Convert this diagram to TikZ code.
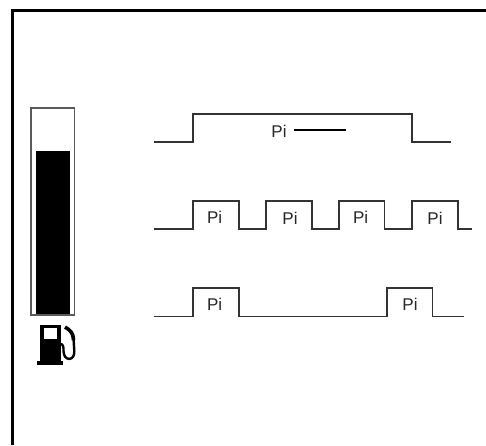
\documentclass[tikz,border=0pt]{standalone}
\usepackage{fontspec}
\setmainfont{Liberation Sans}
\usepackage{tikz}
\tikzset{
  frameline/.style={line width=3.4pt, black},
  wave/.style={line width=1.6pt, draw=black!80, line join=miter},
  gauge/.style={draw=black!65, line width=1.6pt},
  pilabel/.style={font=\fontsize{17}{19}\selectfont, text=black!85, inner sep=0pt}
}
\begin{document}
\begin{tikzpicture}[x=1pt, y=-1pt]
  \useasboundingbox (0,0) rectangle (486,445);
  \draw[frameline] (12.7,445) -- (12.7,10.7) -- (486,10.7);
  % fuel gauge
  \fill[black] (36,151) rectangle (70,315);
  \draw[gauge] (31,108) rectangle (74.5,315);
  % pump
  \fill[black] (40,325) rectangle (60.7,362);
  \fill[black] (36.7,361) rectangle (63.3,365);
  \fill[white] (43.5,328) rectangle (57.3,338.7);
  \draw[black, line width=2.4pt] (60,344) .. controls (63.5,344) and (63.5,347) .. (63.5,351)
    .. controls (63.5,361.5) and (75,361.5) .. (74.3,351) -- (73.5,338);
  \draw[black, line width=3.6pt] (73.5,340) .. controls (73.5,333) and (70,330) .. (65,327);
  % full load
  \draw[wave] (153.7,141.7) -- (192.7,141.7) -- (192.7,113.7) -- (412,113.7) -- (412,141.7) -- (451,141.7);
  \node[pilabel] (pitop) at (279,131) {Pi};
  \draw[black, line width=1.8pt] (294,130) -- (346,130);
  % four pulses
  \draw[wave] (153.7,228.7) -- (192.7,228.7) -- (192.7,201) -- (238.7,201) -- (238.7,228.7)
    -- (265.7,228.7) -- (265.7,201) -- (311.7,201) -- (311.7,228.7)
    -- (338.7,228.7) -- (338.7,201) -- (384.3,201) -- (384.3,228.7)
    -- (412,228.7) -- (412,201) -- (457.7,201) -- (457.7,228.7) -- (471.7,228.7);
  \node[pilabel] (pia) at (214.7,217) {Pi};
  \node[pilabel] (pib) at (290,218) {Pi};
  \node[pilabel] (pic) at (360.7,217) {Pi};
  \node[pilabel] (pid) at (435,218.5) {Pi};
  % two pulses
  \draw[wave] (153.7,316.3) -- (192.7,316.3) -- (192.7,288) -- (238.7,288) -- (238.7,316.3)
    -- (387,316.3) -- (387,288) -- (432.3,288) -- (432.3,316.3) -- (463.7,316.3);
  \node[pilabel] (pie) at (214.7,304.5) {Pi};
  \node[pilabel] (pif) at (410,304.5) {Pi};
\end{tikzpicture}
\end{document}
